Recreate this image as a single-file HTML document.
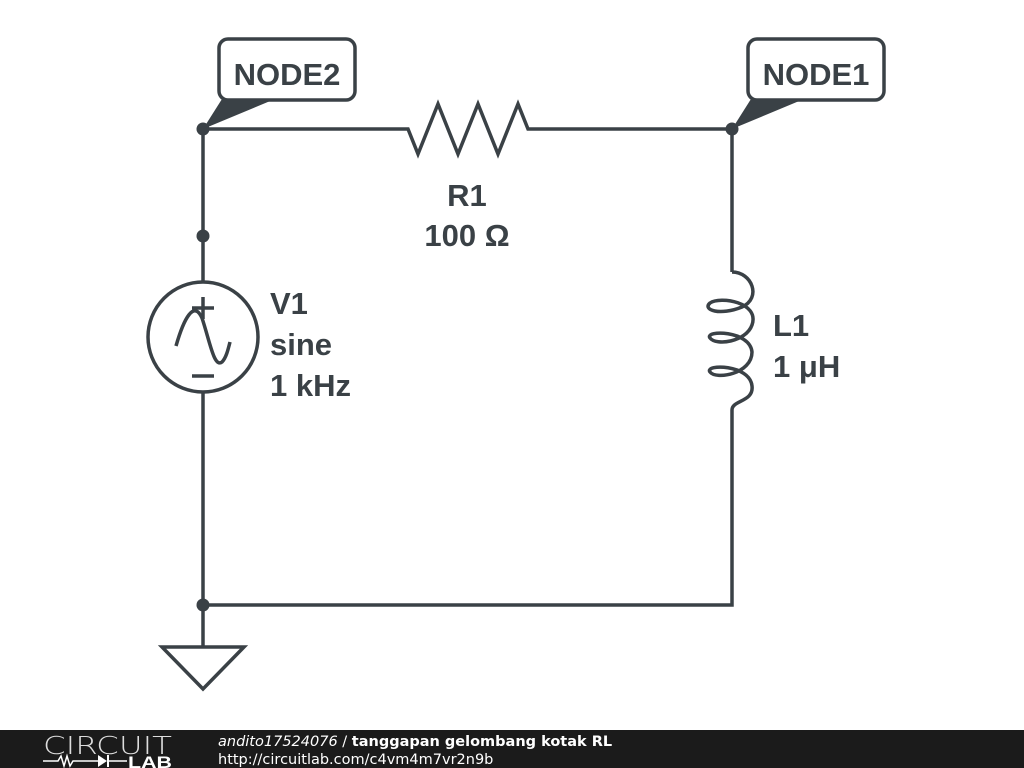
<!DOCTYPE html>
<html><head><style>
body{margin:0;background:#fff;}
</style></head><body>
<svg width="1024" height="768" viewBox="0 0 1024 768" xmlns="http://www.w3.org/2000/svg" style="display:block">
<rect width="1024" height="768" fill="#fff"/>
<g stroke="#3a4146" stroke-width="3.5" fill="none" stroke-linejoin="miter">
<polyline points="203,129 408,129 418,154 438,104 458,154 478,104 498,154 518,104 528,129 732,129 732,272"/>
<path d="M732,272 C752,272 762,298 742,307 C720,316 702,310 710,303 C720,296 760,302 752,325 C746,342 716,346 710,338 C704,330 750,330 752,352 C752,374 716,380 710,372 C704,364 750,364 752,386 C754,402 732,400 732,410"/>
<polyline points="732,410 732,605 203,605"/>
<line x1="203" y1="129" x2="203" y2="282"/>
<line x1="203" y1="392" x2="203" y2="647"/>
<circle cx="203" cy="337" r="55"/>
<path d="M176,346 C184,318 194,300 202,318 C210,342 214,368 222,362 C226,358 228,350 230,342"/>
<line x1="192" y1="308" x2="214" y2="308"/><line x1="203" y1="297" x2="203" y2="319"/>
<line x1="192" y1="376" x2="214" y2="376"/>
<polygon points="162,647 244,647 203,689"/>
<rect x="219" y="39" width="136" height="61" rx="9"/>
<rect x="748" y="39" width="136" height="61" rx="9"/>
</g>
<g fill="#3a4146">
<circle cx="203" cy="129" r="6.5"/><circle cx="732" cy="129" r="6.5"/><circle cx="203" cy="605" r="6.5"/><circle cx="203" cy="236" r="6.5"/>
<polygon points="203,129 222,99 275,99"/>
<polygon points="732,129 751,99 804,99"/>
</g>
<g font-family="Liberation Sans, sans-serif" font-weight="bold" font-size="31" fill="#3a4146">
<text x="287" y="85" text-anchor="middle">NODE2</text>
<text x="816" y="85" text-anchor="middle">NODE1</text>
<text x="467" y="206" text-anchor="middle">R1</text>
<text x="467" y="246" text-anchor="middle">100 Ω</text>
<text x="270" y="314">V1</text>
<text x="270" y="355">sine</text>
<text x="270" y="396">1 kHz</text>
<text x="773" y="336">L1</text>
<text x="773" y="377">1 μH</text>
</g>
<rect x="0" y="730" width="1024" height="38" fill="#1b1b1b"/>
<text x="43" y="754" font-family="DejaVu Sans, sans-serif" font-weight="200" font-size="25" fill="#ddd" textLength="129" lengthAdjust="spacingAndGlyphs">CIRCUIT</text>
<polyline points="43,761 58,761 61,756 64,766 67,756 70,766 73,761 98,761" stroke="#fff" stroke-width="1.5" fill="none"/>
<polygon points="98,755 98,767 107,761" fill="#fff"/><line x1="108" y1="755" x2="108" y2="767" stroke="#fff" stroke-width="2"/>
<line x1="108" y1="761" x2="127" y2="761" stroke="#fff" stroke-width="1.5"/>
<text x="128" y="768" font-family="Liberation Sans, sans-serif" font-weight="bold" font-size="17" fill="#fff" textLength="44" lengthAdjust="spacingAndGlyphs">LAB</text>
<text x="218" y="746" font-family="DejaVu Sans, sans-serif" font-size="14.5" fill="#fff"><tspan font-style="italic">andito17524076</tspan> / <tspan font-weight="bold">tanggapan gelombang kotak RL</tspan></text>
<text x="218" y="764" font-family="DejaVu Sans, sans-serif" font-size="14.5" fill="#fff">http://circuitlab.com/c4vm4m7vr2n9b</text>
</svg>
</body></html>
